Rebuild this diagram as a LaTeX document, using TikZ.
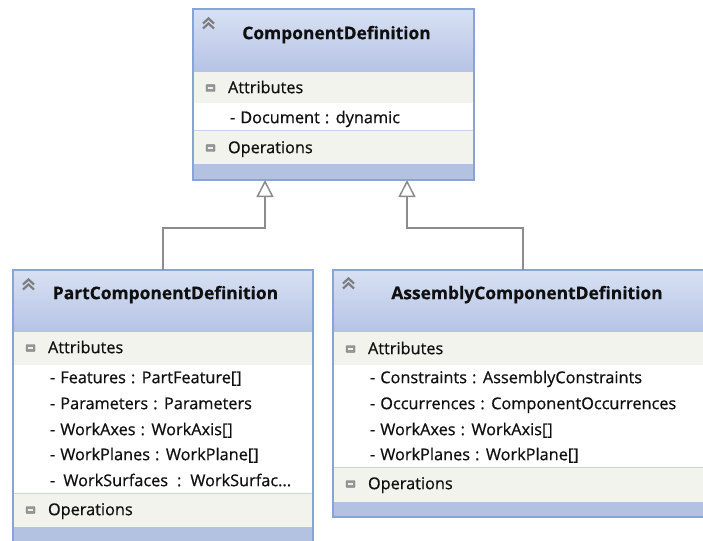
\documentclass[tikz,border=0pt]{standalone}
\usepackage{fontspec}
\setmainfont{Open Sans}[RawFeature={embolden=0.6}]
\usetikzlibrary{arrows.meta}

\definecolor{hdrtop}{RGB}{216,225,243}
\definecolor{hdrbot}{RGB}{181,195,229}
\definecolor{bandcol}{RGB}{241,243,236}
\definecolor{footcol}{RGB}{180,194,226}
\definecolor{framecol}{RGB}{136,164,214}
\definecolor{sepcol}{RGB}{200,212,236}
\definecolor{txtcol}{RGB}{16,16,16}
\definecolor{conncol}{RGB}{140,140,140}
\definecolor{iconcol}{RGB}{150,150,150}
\definecolor{chevcol}{RGB}{125,125,125}

\newcommand\memberspacing{\spaceskip=0.31em\relax}

\tikzset{
  every node/.style={inner sep=0pt, outer sep=0pt},
  frame/.style={draw=framecol, line width=1.5pt, rectangle},
  classtitle/.style={font=\fontsize{17.4}{20}\selectfont\bfseries, text=txtcol,
    anchor=mid, yshift=-2.5pt},
  section/.style={font=\fontsize{16.3}{19}\selectfont, text=txtcol,
    anchor=mid west, yshift=-2.5pt},
  member/.style={font=\fontsize{16.3}{19}\selectfont,
    execute at begin node=\memberspacing,
    text=txtcol, anchor=mid west, yshift=-2.5pt},
  band/.style={fill=bandcol},
  foot/.style={fill=footcol},
  sepline/.style={draw=sepcol, line width=1pt},
  gen/.style={draw=conncol, line width=1.5pt,
    -{Triangle[open, width=17pt, length=17pt, fill=white]}},
  minusicon/.pic={
    \fill[draw=iconcol!80!black, fill=iconcol, line width=0.4pt, rounded corners=1pt]
      (-4.5,-3.5) rectangle (4.5,3.5);
    \draw[white!85!iconcol, line width=1.2pt] (-2.6,0) -- (2.6,0);
  },
  chevrons/.pic={
    \draw[chevcol, line width=2.2pt, line join=miter]
      (-5.5,0.5) -- (0,-4.5) -- (5.5,0.5)
      (-5.5,5.5) -- (0,0.5) -- (5.5,5.5);
  }
}

\begin{document}
\begin{tikzpicture}[x=1pt, y=-1pt]
  \path[use as bounding box] (0,0) rectangle (703,540);
  \clip (0,0) rectangle (703,540);
  \fill[white] (0,0) rectangle (703,540);

  % ---------- ComponentDefinition ----------
  \shade[top color=hdrtop, bottom color=hdrbot] (193,9) rectangle (474,72);
  \fill[band] (193,72) rectangle (474,103);
  \fill[white] (193,103) rectangle (474,131);
  \fill[band] (193,131) rectangle (474,164);
  \fill[foot] (193,164) rectangle (474,180);
  \draw[sepline] (193,131) -- (474,131);
  \node[frame, minimum width=281pt, minimum height=171pt] (cd) at (333.5,94.5) {};
  \pic at (208.5,23) {chevrons};
  \node[classtitle] (cdtitle) at (336.5,34) {ComponentDefinition};
  \pic at (210.5,88) {minusicon};
  \node[section] (cdattr) at (228,88) {Attributes};
  \node[member] (cdm1) at (230,118) {- Document : dynamic};
  \pic at (210.5,148) {minusicon};
  \node[section] (cdops) at (228,148) {Operations};
  \coordinate (cdL) at (265,180);
  \coordinate (cdR) at (407,180);

  % ---------- PartComponentDefinition ----------
  \shade[top color=hdrtop, bottom color=hdrbot] (13,270) rectangle (313,332);
  \fill[band] (13,332) rectangle (313,365);
  \fill[white] (13,365) rectangle (313,493);
  \fill[band] (13,493) rectangle (313,527);
  \fill[foot] (13,527) rectangle (313,546);
  \draw[sepline] (13,493) -- (313,493);
  \node[frame, minimum width=300pt, minimum height=276pt] (pcd) at (163,408) {};
  \pic at (28.5,284) {chevrons};
  \node[classtitle] (pcdtitle) at (165.5,294) {PartComponentDefinition};
  \pic at (30.5,348) {minusicon};
  \node[section] (pcdattr) at (48,348) {Attributes};
  \node[member] (pcdm1) at (50,378) {- Features : PartFeature[]};
  \node[member] (pcdm2) at (50,404) {- Parameters : Parameters};
  \node[member] (pcdm3) at (50,430) {- WorkAxes : WorkAxis[]};
  \node[member] (pcdm4) at (50,455) {- WorkPlanes : WorkPlane[]};
  \node[member] (pcdm5) at (50,481) {-\hspace{0.5em}WorkSurfaces\hspace{0.55em}:\hspace{0.55em}WorkSurfac...};
  \pic at (30.5,510) {minusicon};
  \node[section] (pcdops) at (48,510) {Operations};

  % ---------- AssemblyComponentDefinition ----------
  \shade[top color=hdrtop, bottom color=hdrbot] (333,270) rectangle (713,332);
  \fill[band] (333,332) rectangle (713,365);
  \fill[white] (333,365) rectangle (713,467);
  \fill[band] (333,467) rectangle (713,502);
  \fill[foot] (333,502) rectangle (713,517);
  \draw[sepline] (333,467) -- (713,467);
  \node[frame, minimum width=380pt, minimum height=247pt] (acd) at (523,393.5) {};
  \pic at (348.5,283) {chevrons};
  \node[classtitle] (acdtitle) at (527,294) {AssemblyComponentDefinition};
  \pic at (350.5,349) {minusicon};
  \node[section] (acdattr) at (368,349) {Attributes};
  \node[member] (acdm1) at (370,378) {- Constraints : AssemblyConstraints};
  \node[member] (acdm2) at (370,404) {- Occurrences : ComponentOccurrences};
  \node[member] (acdm3) at (370,430) {- WorkAxes : WorkAxis[]};
  \node[member] (acdm4) at (370,455) {- WorkPlanes : WorkPlane[]};
  \pic at (350.5,484) {minusicon};
  \node[section] (acdops) at (368,484) {Operations};

  % ---------- generalisation arrows ----------
  \draw[gen] (pcd.north) -- ++(0,-42) -| (cdL);
  \draw[gen] (acd.north) -- ++(0,-42) -| (cdR);
\end{tikzpicture}
\end{document}
